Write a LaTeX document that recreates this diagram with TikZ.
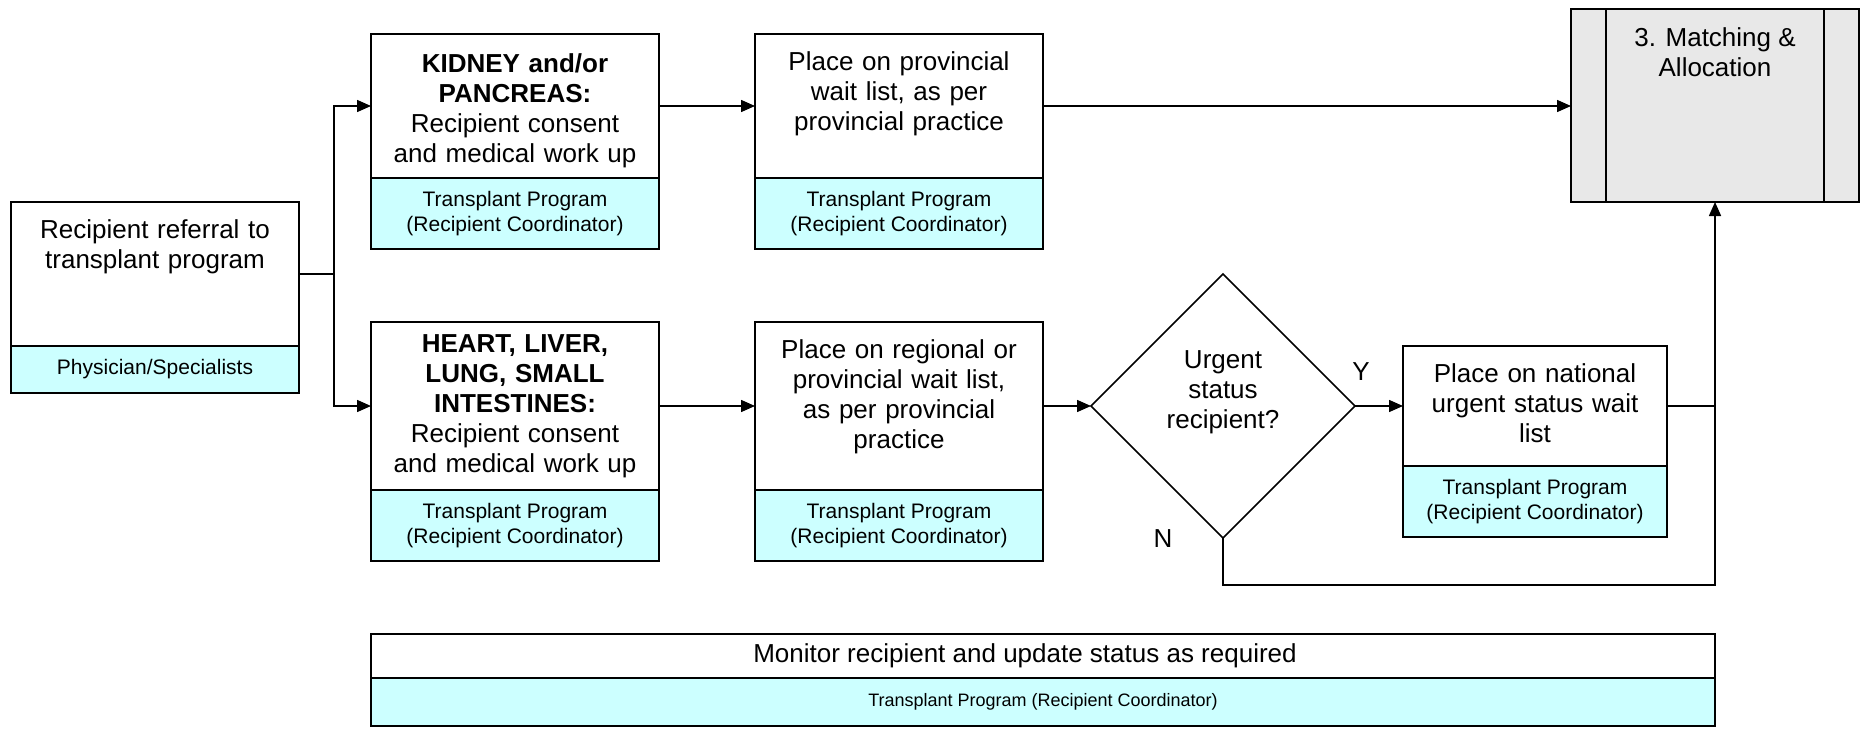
\documentclass[tikz,border=0pt]{standalone}
\usepackage{fontspec}
\setmainfont{Liberation Sans}
\usetikzlibrary{arrows.meta,shapes.geometric}
\definecolor{cyanfill}{HTML}{CCFFFF}
\definecolor{grayfill}{HTML}{E8E8E8}
\newcommand\mainfs{\fontsize{26}{30}\selectfont}
\newcommand\subfs{\fontsize{21}{24.5}\selectfont}
% name, x1, y1, x2, ydiv, y2, main text, sub text, top gap
\newcommand\procbox[9]{%
  \pgfmathsetmacro\pbw{#4-#2}%
  \pgfmathsetmacro\pbtw{#4-#2-10}%
  \pgfmathsetmacro\pbhu{#5-#3}%
  \pgfmathsetmacro\pbhl{#6-#5}%
  \node[upperbox, minimum width=\pbw pt, minimum height=\pbhu pt] (#1) at ({(#2+#4)/2},{(#3+#5)/2}) {};
  \node[maintext, text width=\pbtw pt, inner ysep=#9pt] (#1t) at (#1.north) {#7};
  \node[lowerbox, minimum width=\pbw pt, minimum height=\pbhl pt] (#1s) at ({(#2+#4)/2},{(#5+#6)/2}) {#8};
}
\begin{document}
\begin{tikzpicture}[x=1pt,y=-1pt,
  box/.style={draw=black, line width=1.5pt, inner sep=0pt, outer sep=0pt},
  upperbox/.style={box, fill=white},
  lowerbox/.style={box, fill=cyanfill, align=center, font=\subfs},
  maintext/.style={anchor=north, align=center, font=\mainfs, inner xsep=0pt},
  conn/.style={line width=1.5pt},
  arr/.style={conn, -{Triangle[length=14pt,width=12pt]}},
  lbl/.style={font=\mainfs, inner sep=0pt}]
\useasboundingbox (0,0) rectangle (1862,728);

\procbox{ref}{11}{202}{299}{346}{393}{Recipient referral to\\transplant program}{Physician/Specialists}{17}
\procbox{kid}{371}{34}{659}{178}{249}{\textbf{KIDNEY and/or}\\\textbf{PANCREAS:}\\Recipient consent\\and medical work up}{Transplant Program\\(Recipient Coordinator)}{19}
\procbox{prov}{755}{34}{1043}{178}{249}{Place on provincial\\wait list, as per\\provincial practice}{Transplant Program\\(Recipient Coordinator)}{17}
\procbox{hrt}{371}{322}{659}{490}{561}{\textbf{HEART, LIVER,}\\\textbf{LUNG, SMALL}\\\textbf{INTESTINES:}\\Recipient consent\\and medical work up}{Transplant Program\\(Recipient Coordinator)}{12}
\procbox{reg}{755}{322}{1043}{490}{561}{Place on regional or\\provincial wait list,\\as per provincial\\practice}{Transplant Program\\(Recipient Coordinator)}{17}
\procbox{nat}{1403}{346}{1667}{466}{537}{Place on national\\urgent status wait\\list}{Transplant Program\\(Recipient Coordinator)}{17}

% matching & allocation (predefined process)
\node[box, fill=grayfill, minimum width=288pt, minimum height=193pt] (match) at (1715,105.5) {};
\draw[line width=1.5pt] ([xshift=35pt]match.north west) -- ([xshift=35pt]match.south west);
\draw[line width=1.5pt] ([xshift=-35pt]match.north east) -- ([xshift=-35pt]match.south east);
\node[maintext, inner ysep=18pt] (matcht) at (match.north) {3. Matching \&\\Allocation};

% decision
\node[draw=black, line width=1.5pt, fill=white, shape=diamond, aspect=1, inner sep=0pt, outer sep=0pt,
      minimum width=264pt, minimum height=264pt] (dia) at (1223,406) {};
\node[align=center, font=\mainfs, inner sep=0pt] (diat) at (1223,392) {Urgent\\status\\recipient?};

% monitor box
\node[draw=black, line width=2.5pt, fill=white, inner sep=0pt, minimum width=1344pt, minimum height=44pt] (mon) at (1043,656) {};
\node[font=\mainfs, inner sep=0pt] (mont) at (1025,656) {Monitor recipient and update status as required};
\node[draw=black, line width=2.5pt, fill=cyanfill, inner sep=0pt, minimum width=1344pt, minimum height=48pt,
      font=\fontsize{18}{22}\selectfont] (mons) at (1043,702) {Transplant Program (Recipient Coordinator)};

% connectors
\coordinate (split) at (334,274);
\coordinate (jn) at (1715,585);
\draw[conn] (ref.east) -- (split);
\draw[arr] (split) |- (kid.west);
\draw[arr] (split) |- (hrt.west);
\draw[arr] (kid.east) -- (prov.west);
\draw[arr] (prov.east) -- (prov.east -| match.west);
\draw[arr] (hrt.east) -- (reg.west);
\draw[arr] (reg.east) -- (dia.west);
\draw[arr] (dia.east) -- (nat.west);
\draw[conn] (nat.east) -- (nat.east -| jn);
\draw[arr] (dia.south) |- (jn) -- (match.south);

\node[lbl] (ylab) at (1361,372) {Y};
\node[lbl] (nlab) at (1163,539) {N};
\end{tikzpicture}
\end{document}
